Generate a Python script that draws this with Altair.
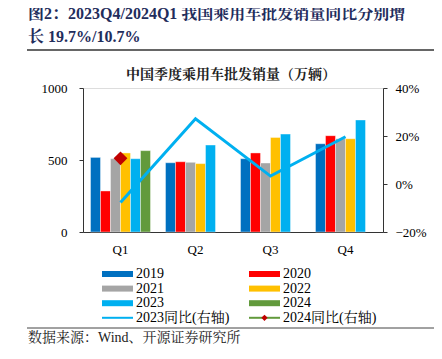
import altair as alt
import pandas as pd

quarters = ["Q1", "Q2", "Q3", "Q4"]
years = ["2019", "2020", "2021", "2022", "2023", "2024"]
colors = ["#0070C0", "#FF0000", "#A5A5A5", "#FFC000", "#00B0F0", "#629A3C"]
sales = {
    "2019": [518, 481, 509, 613],
    "2020": [285, 488, 549, 669],
    "2021": [509, 484, 479, 648],
    "2022": [549, 475, 657, 648],
    "2023": [509, 604, 680, 778],
    "2024": [565, None, None, None],
}
yoy_2023 = [-0.077, 0.272, 0.033, 0.197]
yoy_2024 = [0.107]

header1 = "图2：2023Q4/2024Q1  我国乘用车批发销量同比分别增"
header2 = "长 19.7%/10.7%"
chart_title = "中国季度乘用车批发销量（万辆）"
source = "数据来源：Wind、开源证券研究所"
line_labels = ["2023同比(右轴)", "2024同比(右轴)"]

SERIF = "Times New Roman, Liberation Serif, Noto Serif CJK SC, Noto Sans CJK SC"

rows = []
for y in years:
    for q, v in zip(quarters, sales[y]):
        if v is not None:
            rows.append({"quarter": q, "year": y, "value": v})
bars_df = pd.DataFrame(rows)

xscale = alt.Scale(domain=quarters, paddingInner=0.2, paddingOuter=0.1)
rscale = alt.Scale(domain=[-0.2, 0.4])

bars = alt.Chart(bars_df).mark_bar(stroke="white", strokeWidth=0.4).encode(
    x=alt.X("quarter:N", scale=xscale, title=None,
            axis=alt.Axis(labelAngle=0, ticks=False, labelPadding=11, labelFontSize=13,
                          labelFont=SERIF, labelColor="#000", domainColor="#333")),
    xOffset=alt.XOffset("year:N", scale=alt.Scale(domain=years, paddingInner=0, paddingOuter=0)),
    y=alt.Y("value:Q", scale=alt.Scale(domain=[0, 1000]), title=None,
            axis=alt.Axis(orient="left", values=[0, 500, 1000], format="d", grid=False, tickSize=4,
                          labelPadding=12, labelFontSize=13, labelFont=SERIF,
                          labelColor="#000", domainColor="#333", tickColor="#333")),
    color=alt.Color("year:N", scale=alt.Scale(domain=years, range=colors), legend=None),
)

line_df = pd.DataFrame({"quarter": quarters, "yoy": yoy_2023})
line = alt.Chart(line_df).mark_line(color="#00B0F0", strokeWidth=3).encode(
    x=alt.X("quarter:N", scale=xscale, axis=None),
    y=alt.Y("yoy:Q", scale=rscale, title=None,
            axis=alt.Axis(orient="right", values=[-0.2, 0, 0.2, 0.4], format=".0%", grid=False,
                          tickSize=4, labelPadding=8, labelFontSize=13, labelFont=SERIF,
                          labelColor="#000", domainColor="#333", tickColor="#333")),
)

dia_df = pd.DataFrame({"quarter": quarters[:1], "yoy": yoy_2024})
diamond = alt.Chart(dia_df).mark_point(shape="diamond", filled=True, color="#C00000",
                                       size=190, opacity=1).encode(
    x=alt.X("quarter:N", scale=xscale, axis=None),
    y=alt.Y("yoy:Q", scale=rscale, axis=None),
)

# legend
leg_rows = []
for i, (y, c) in enumerate(zip(years, colors)):
    col, row = i % 2, i // 2
    leg_rows.append({"label": y, "color": c, "x0": 19 + col * 147, "x1": 50 + col * 147,
                     "tx": 53 + col * 147, "ly": 186 + row * 14.6})
leg_df = pd.DataFrame(leg_rows)
leg_sym = alt.Chart(leg_df).mark_rule(strokeWidth=6).encode(
    x=alt.X("x0:Q", scale=None, axis=None), x2="x1:Q",
    y=alt.Y("ly:Q", scale=None, axis=None),
    color=alt.Color("color:N", scale=None),
)
leg_txt = alt.Chart(leg_df).mark_text(align="left", baseline="middle", fontSize=14,
                                      font=SERIF, color="#000").encode(
    x=alt.X("tx:Q", scale=None, axis=None), y=alt.Y("ly:Q", scale=None, axis=None), text="label:N")

ll_df = pd.DataFrame({"label": line_labels, "color": ["#00B0F0", "#629A3C"],
                      "x0": [19, 166], "x1": [50, 197], "tx": [53, 200],
                      "ly": [186 + 3 * 14.6] * 2, "mx": [34.5, 181.5]})
ll_sym = alt.Chart(ll_df).mark_rule(strokeWidth=2).encode(
    x=alt.X("x0:Q", scale=None, axis=None), x2="x1:Q",
    y=alt.Y("ly:Q", scale=None, axis=None),
    color=alt.Color("color:N", scale=None),
)
ll_dia = alt.Chart(ll_df.iloc[1:]).mark_point(shape="diamond", filled=True, color="#C00000",
                                              size=40, opacity=1).encode(
    x=alt.X("mx:Q", scale=None, axis=None), y=alt.Y("ly:Q", scale=None, axis=None))
ll_txt = alt.Chart(ll_df).mark_text(align="left", baseline="middle", fontSize=14,
                                    font=SERIF, color="#000").encode(
    x=alt.X("tx:Q", scale=None, axis=None), y=alt.Y("ly:Q", scale=None, axis=None), text="label:N")

# texts & rules
hdr1 = alt.Chart(pd.DataFrame({"t": [header1]})).mark_text(
    align="left", baseline="alphabetic", fontSize=16, fontWeight="bold", font=SERIF,
    color="#1F2D5C").encode(x=alt.value(-55), y=alt.value(-69), text="t:N")
hdr2 = alt.Chart(pd.DataFrame({"t": [header2]})).mark_text(
    align="left", baseline="alphabetic", fontSize=16, fontWeight="bold", font=SERIF,
    color="#1F2D5C").encode(x=alt.value(-55), y=alt.value(-46), text="t:N")
ttl = alt.Chart(pd.DataFrame({"t": [chart_title]})).mark_text(
    align="center", baseline="middle", fontSize=14, fontWeight="bold", font=SERIF,
    color="#222").encode(x=alt.value(148), y=alt.value(-13), text="t:N")
src = alt.Chart(pd.DataFrame({"t": [source]})).mark_text(
    align="left", baseline="middle", fontSize=14, font=SERIF,
    color="#222").encode(x=alt.value(-55), y=alt.value(250), text="t:N")
rule_top = alt.Chart(pd.DataFrame({"a": [0]})).mark_rule(color="#333", strokeWidth=1.5).encode(
    x=alt.value(-56), x2=alt.value(351), y=alt.value(-38))
rule_bot = alt.Chart(pd.DataFrame({"a": [0]})).mark_rule(color="#444", strokeWidth=1).encode(
    x=alt.value(-56), x2=alt.value(351), y=alt.value(240))

chart = alt.layer(
    bars, line, diamond, leg_sym, leg_txt, ll_sym, ll_dia, ll_txt,
    hdr1, hdr2, ttl, src, rule_top, rule_bot
).resolve_scale(y="independent", x="independent").properties(
    width=300, height=144, autosize="none",
    padding={"left": 75, "top": 80, "right": 51, "bottom": 119},
).configure_view(stroke=None).configure(background="white")

chart.save("out.html", embed_options={"renderer": "svg", "actions": False})
